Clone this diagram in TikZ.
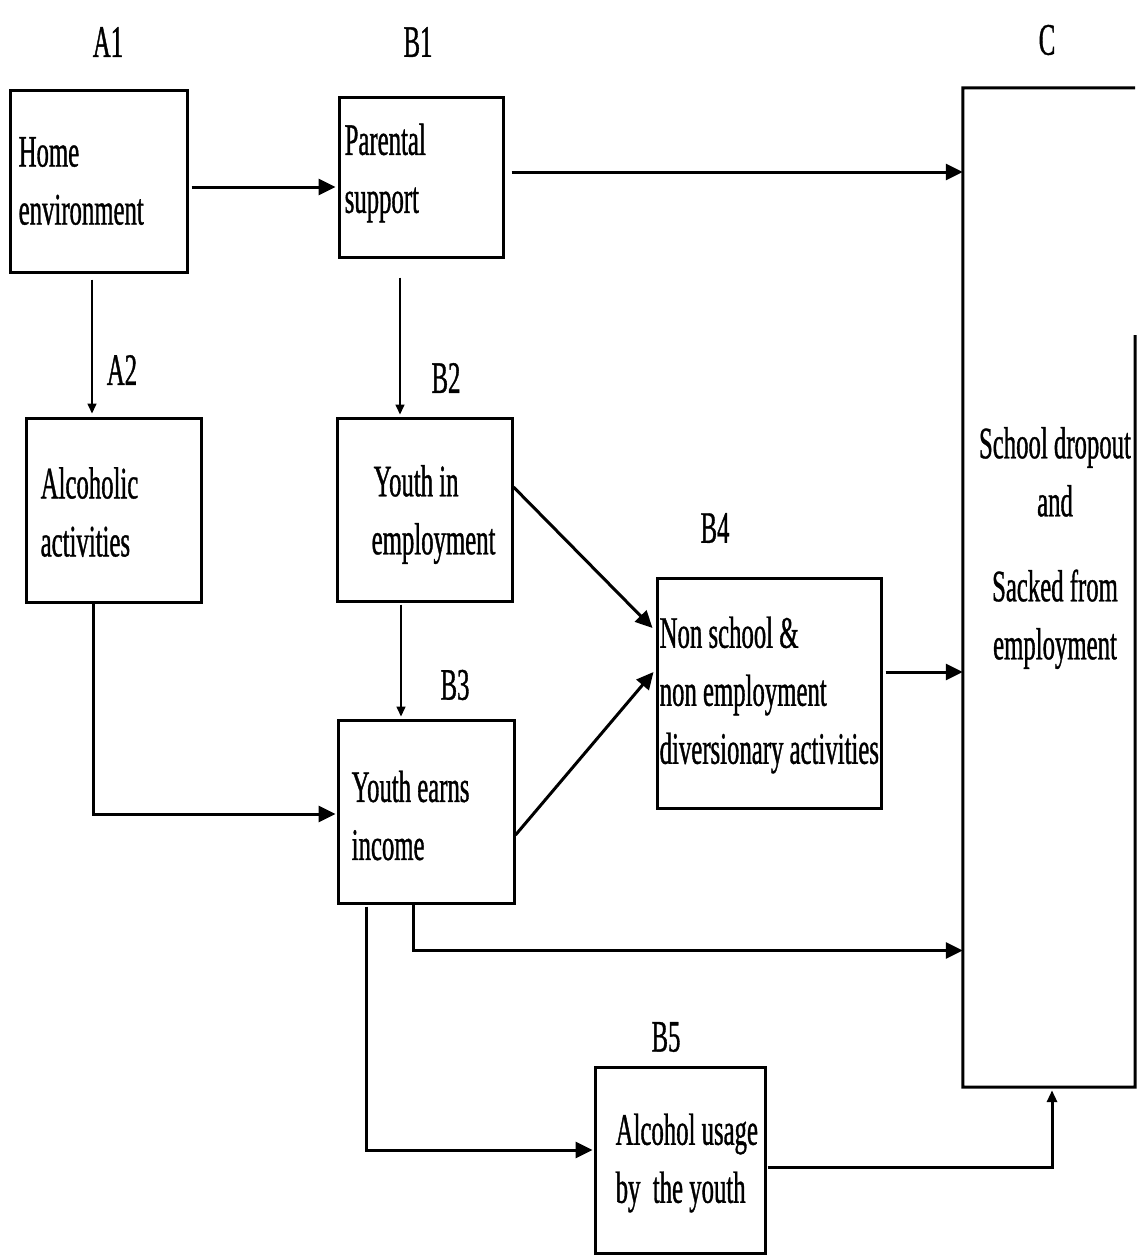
\documentclass[tikz,border=0pt]{standalone}
\usepackage{fontspec}
\setmainfont{Liberation Serif}[FakeStretch=0.55,FakeBold=0.8]
\usetikzlibrary{arrows.meta,calc}
\begin{document}
\begin{tikzpicture}[x=1pt,y=-1pt,
  box/.style={draw,line width=3pt,rectangle,inner sep=0pt},
  txt/.style={font=\fontsize{45}{58}\selectfont,align=left,inner sep=0pt},
  lab/.style={font=\fontsize{45}{58}\selectfont,inner sep=0pt},
  arr/.style={line width=3pt,-{Triangle[length=17pt,width=16pt]}},
  arrsmall/.style={line width=3pt,-{Triangle[length=12pt,width=10pt]}},
  arrthin/.style={line width=1.6pt,-{Triangle[length=10pt,width=9pt]}}]
\useasboundingbox (0,0) rectangle (1138,1256);
% boxes
\node[box,minimum width=177pt,minimum height=182pt] (home) at (98.5,181) {};
\node[box,minimum width=164pt,minimum height=160pt] (par) at (421,177) {};
\node[minimum width=172pt,minimum height=999pt,inner sep=0pt] (C) at (1049,587.5) {};
\draw[line width=3pt] (1135,335) -- (C.south east) -- (C.south west) -- (C.north west) -- (C.north east);
\node[box,minimum width=175pt,minimum height=184pt] (alc) at (113.5,510) {};
\node[box,minimum width=175pt,minimum height=183pt] (yemp) at (424.5,509.5) {};
\node[box,minimum width=176pt,minimum height=183pt] (yinc) at (426,811.5) {};
\node[box,minimum width=224pt,minimum height=230pt] (b4) at (769,693) {};
\node[box,minimum width=170pt,minimum height=186pt] (b5) at (680,1160) {};
% texts
\node[txt,anchor=west] (homeT) at ($(home.west)+(10,0)$) {Home\\environment};
\node[txt,anchor=west] (parT) at ($(par.west)+(7,-4)$) {Parental\\support};
\node[txt,anchor=west] (alcT) at ($(alc.west)+(16,2)$) {Alcoholic\\activities};
\node[txt,anchor=west] (yempT) at ($(yemp.west)+(36,5)$) {\hspace{2pt}Youth in\\employment};
\node[txt,anchor=west] (yincT) at ($(yinc.west)+(15,4)$) {Youth earns\\income};
\node[txt,anchor=west] (b4T) at ($(b4.west)+(4,2)$) {Non school \&\\non employment\\diversionary activities};
\node[txt,anchor=west] (b5T) at ($(b5.west)+(22,3)$) {Alcohol usage\\by\ \ the youth};
\node[txt,align=center] (CT) at (1055,548) {School dropout\\and\\[27pt]Sacked from\\employment};
% labels
\node[lab] (A1) at (108,42) {A1};
\node[lab] (B1) at (418,42) {B1};
\node[lab] (Cl) at (1047,40) {C};
\node[lab] (A2) at (122,370) {A2};
\node[lab] (B2) at (446,378) {B2};
\node[lab] (B3) at (455,685) {B3};
\node[lab] (B4) at (715,528) {B4};
\node[lab] (B5) at (666,1037) {B5};
% connectors
\draw[arr] ($(home.east)+(3,6)$) -- ($(par.west)+(-2,10)$);
\draw[arr] ($(par.east)+(7,-5)$) coordinate (p1) -- (p1 -| C.west);
\draw[arrthin] ($(home.south)+(-6.5,6)$) coordinate (p2) -- ($(p2 |- alc.north)+(0,-3)$);
\draw[arrthin] ($(par.south)+(-21,19)$) coordinate (p3) -- ($(p3 |- yemp.north)+(0,-2)$);
\draw[arrthin] ($(yemp.south)+(-23.5,2)$) coordinate (p4) -- ($(p4 |- yinc.north)+(0,-2)$);
\draw[arr] ($(alc.south)+(-20.5,0)$) |- ($(yinc.west)+(-1,2.5)$);
\draw[arr] ($(yemp.east)+(0,-22.5)$) -- ($(b4.west)+(-3,-65)$);
\draw[arr] ($(yinc.east)+(0,23.5)$) -- ($(b4.west)+(-2,-21)$);
\draw[arr] ($(b4.east)+(3,-21)$) coordinate (p5) -- (p5 -| C.west);
\draw[arr] ($(yinc.south)+(-13,0)$) -- ++(0,46) coordinate (p6) -- (p6 -| C.west);
\draw[arr] ($(yinc.south)+(-60,2)$) |- ($(b5.west)+(-1,-10)$);
\draw[arrsmall] ($(b5.east)+(1,7)$) -| ($(C.south)+(3,3)$);
\end{tikzpicture}
\end{document}
